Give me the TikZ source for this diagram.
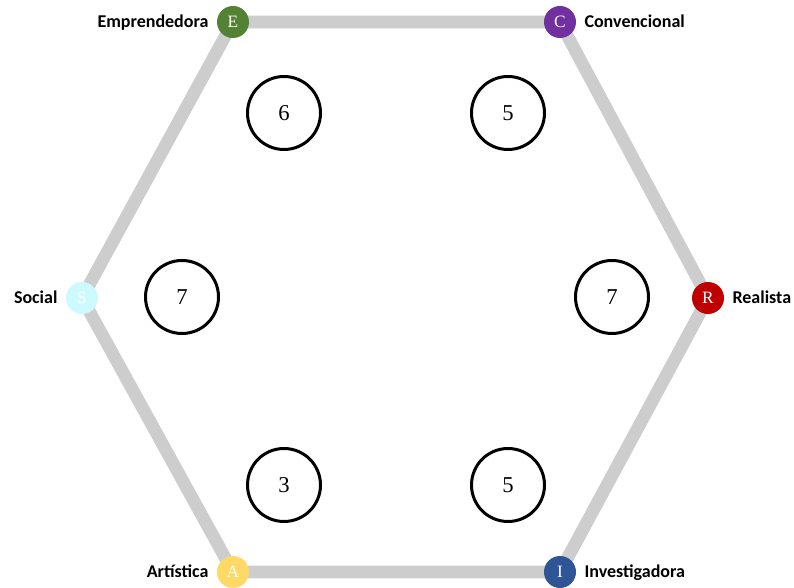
\documentclass[tikz,border=0pt]{standalone}
\usepackage{fontspec}
\setmainfont{Liberation Serif}
\newfontfamily\typefont{Carlito}
\usetikzlibrary{positioning, backgrounds}

\definecolor{hexgray}{RGB}{205,205,205}
\definecolor{colE}{RGB}{84,130,53}
\definecolor{colC}{RGB}{112,48,160}
\definecolor{colR}{RGB}{192,0,0}
\definecolor{colI}{RGB}{47,85,151}
\definecolor{colA}{RGB}{255,217,102}
\definecolor{colS}{RGB}{204,250,255}

\begin{document}
\begin{tikzpicture}[x=0.75pt, y=-0.75pt]
\tikzstyle{vertex} = [circle, minimum size=24pt, inner sep=0pt, text=white, font=\fontsize{13}{13}\selectfont]
\tikzstyle{score} = [circle, minimum size=54.75pt, inner sep=0pt, draw=black, line width=2.25pt, font=\fontsize{17}{17}\selectfont]
\tikzstyle{type} = [inner sep=0pt, text height=8.8pt, text depth=0.5pt, font=\typefont\bfseries\fontsize{13.5}{13.5}\selectfont]
\tikzstyle{edge} = [draw=hexgray, line width=9.5pt]

\useasboundingbox (0,0) rectangle (794,588);

% vertices of the hexagon
\node (E) [vertex, fill=colE] at (233,22) {E};
\node (C) [vertex, fill=colC] at (560,22) {C};
\node (R) [vertex, fill=colR] at (708,298) {R};
\node (I) [vertex, fill=colI] at (560,572) {I};
\node (A) [vertex, fill=colA] at (233,572) {A};
\node (S) [vertex, fill=colS] at (82,298) {S};

% type names
\node (labE) [type, left=6pt of E] {Emprendedora};
\node (labC) [type, right=6pt of C] {Convencional};
\node (labR) [type, right=6pt of R] {Realista};
\node (labI) [type, right=6pt of I] {Investigadora};
\node (labA) [type, left=6pt of A] {Artística};
\node (labS) [type, left=6pt of S] {Social};

% scores
\node (scE) [score] at (284,113) {6};
\node (scC) [score] at (508,113) {5};
\node (scS) [score] at (182,297) {7};
\node (scR) [score] at (612,297) {7};
\node (scA) [score] at (284,485) {3};
\node (scI) [score] at (508,485) {5};

\begin{scope}[on background layer]
\path [edge] (E.center) -- (C.center) -- (R.center) -- (I.center) -- (A.center) -- (S.center) -- cycle;
\end{scope}

\end{tikzpicture}
\end{document}
